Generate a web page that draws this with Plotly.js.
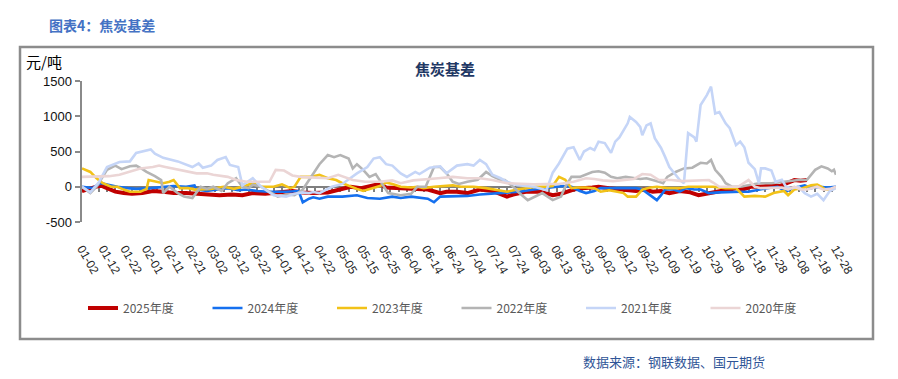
<!DOCTYPE html>
<html><head><meta charset="utf-8">
<script src="https://cdn.plot.ly/plotly-3.0.1.min.js"></script>
<style>html,body{margin:0;padding:0;background:#fff;}#chart{width:898px;height:379px;}</style>
</head><body><div id="chart"></div>
<script>
// ---- tick labels (MM-DD) ----
const xLabels = ["01-02","01-12","01-22","02-01","02-11","02-21","03-02","03-12","03-22","04-01","04-12","04-22",
  "05-05","05-15","05-25","06-04","06-14","06-24","07-04","07-14","07-24","08-03","08-13","08-23",
  "09-02","09-12","09-22","10-09","10-19","10-29","11-08","11-18","11-28","12-08","12-18","12-28"];
const seriesNames = ["2025年度","2024年度","2023年度","2022年度","2021年度","2020年度"];

// ---- data: day index within year, basis value (元/吨) ----
const d2025 = [2,7,11,14,18,22,26,31,36,41,46,52,57,63,68,74,79,84,90,96,103,108,113,120,126,131,136,141,145,148,155,161,168,174,177,182,187,193,199,206,209,215,222,228,232,238,242,247,250,255,262,268,272,276,280,284,289,294,298,302,307,312,316,319,323,327,333,337,341,344,347,350];
const v2025 = [-60,-20,20,-20,-70,-90,-100,-90,-60,-70,-90,-90,-100,-110,-120,-110,-120,-90,-100,-80,-60,-80,-90,-80,-30,0,-20,10,40,-10,-20,-30,-40,-90,-70,-70,-90,-40,-60,-140,-110,-70,-70,-120,-100,-40,-20,-10,0,-20,-40,-60,-40,-70,-60,-90,-60,-80,-120,-100,-70,-40,-20,-40,0,0,20,10,50,95,85,95];

const d2024 = [2,7,11,15,19,24,28,35,42,46,52,56,57,62,67,72,77,81,86,92,100,106,108,111,113,116,120,127,134,139,145,151,155,160,168,171,174,180,187,193,199,206,212,219,225,231,233,237,241,244,248,251,256,260,264,268,271,275,278,280,282,286,289,292,296,299,303,308,313,318,322,327,331,336,340,343,346,349,352,356,360,364];
const v2024 = [0,-20,50,20,0,-20,-30,-20,0,10,0,20,-40,-60,-40,-20,-50,-40,-60,-70,-70,-60,-220,-170,-150,-170,-140,-140,-120,-160,-170,-140,-160,-140,-170,-220,-140,-140,-130,-110,-100,-90,-70,-40,-20,0,10,0,-60,-90,-60,-20,-20,-30,-20,-20,-40,-120,-190,-120,-40,-40,-70,-20,-40,-40,-90,-80,-70,-70,-70,-40,-20,0,-70,-20,0,20,-20,0,-10,0];

const d2023 = [2,6,9,12,16,19,22,25,30,33,34,37,41,44,46,49,53,56,60,64,70,75,79,84,88,94,98,102,104,107,112,116,120,124,127,131,134,137,141,145,148,151,155,160,163,166,171,175,180,184,190,196,201,206,211,216,220,225,228,231,234,237,240,244,248,251,255,259,262,264,268,271,275,278,283,289,293,299,305,311,316,320,325,330,334,339,341,344,348,352,355,357,359,362,364];
const v2023 = [260,210,120,50,0,0,-40,-70,-70,-30,95,80,50,70,95,-20,-20,-40,-40,-30,0,-30,0,50,0,0,35,-20,0,140,140,170,120,95,50,0,-30,-60,-20,10,60,40,0,-10,0,-20,0,10,20,0,0,-20,-40,-70,-40,-20,0,0,10,140,100,-20,-10,-10,-20,-70,-50,-70,-90,-140,-140,-40,-10,0,-20,-20,0,0,0,-20,-20,-140,-130,-140,-90,-60,-120,-40,-20,20,30,0,-40,-40,-10];

const d2022 = [2,6,9,14,18,21,25,28,31,33,37,40,41,44,48,51,55,59,62,65,69,72,76,79,82,84,88,91,96,100,104,108,111,113,116,120,123,126,130,132,134,137,140,143,146,149,155,160,163,167,170,171,174,177,180,183,187,192,196,199,203,205,209,212,216,219,223,228,232,234,237,241,244,247,250,253,256,259,263,267,270,273,276,279,281,283,287,291,295,299,302,304,306,309,311,314,318,322,327,333,340,346,350,354,357,360,362,363,364];
const v2022 = [0,-90,0,240,300,250,290,300,250,210,150,95,-90,0,-90,-140,-160,0,-30,0,-60,50,120,0,-20,30,0,-50,-140,-110,-120,-40,100,190,320,450,420,450,400,260,320,240,140,180,50,-90,-120,-100,0,0,210,280,280,190,70,40,70,100,210,150,95,95,0,-90,-190,-150,-90,-190,-140,0,140,140,170,210,220,200,140,120,140,120,110,120,100,70,50,140,210,260,270,340,330,380,240,140,50,0,0,20,50,50,70,95,95,240,290,260,220,240,170];

const d2021 = [2,6,10,14,20,25,28,35,37,41,48,55,58,60,64,67,71,73,77,79,84,88,94,100,104,108,111,113,116,122,127,134,139,142,145,148,151,155,158,162,164,169,174,177,182,187,190,193,196,199,203,206,211,219,225,228,231,235,238,241,243,246,248,250,253,256,258,260,262,264,265,268,270,271,273,275,277,280,282,284,287,289,291,292,293,296,297,299,302,304,306,308,311,313,316,318,320,322,325,327,328,330,333,335,338,340,343,346,349,352,355,358,361,364];
const v2021 = [0,-80,60,280,350,360,480,530,470,410,360,280,330,270,300,380,420,310,280,20,120,0,-120,-140,-100,-80,-90,-75,-90,0,40,190,280,400,420,320,300,190,140,210,180,270,290,190,300,320,300,380,320,170,120,70,20,0,-50,200,330,540,560,380,500,550,520,640,620,480,640,700,800,900,990,920,850,730,870,900,690,550,420,280,170,95,50,380,760,700,640,1160,1300,1420,1040,1060,900,830,590,640,560,340,250,50,260,260,230,70,100,0,-20,0,-90,-140,-100,-190,-60,-20];

const d2020 = [2,9,15,20,25,30,36,39,42,48,52,57,62,65,72,76,81,88,92,95,99,103,107,114,120,125,128,132,138,145,151,155,161,166,173,180,187,193,199,206,212,219,225,231,238,244,248,252,257,263,267,271,275,279,285,290,297,300,303,305,308,313,317,322,325,328,333,338,341,344,347,350,355,358,361,364];
const v2020 = [140,140,150,170,210,260,280,300,280,240,220,190,190,170,140,95,70,70,70,240,230,160,140,130,120,170,140,95,70,70,90,50,90,100,120,140,120,120,95,50,40,35,40,40,70,120,110,90,80,95,110,180,170,95,95,80,90,95,95,60,0,0,0,95,0,-20,-20,-10,-40,0,-40,-40,0,-40,-30,0];

const days = [d2025,d2024,d2023,d2022,d2021,d2020];
const vals = [v2025,v2024,v2023,v2022,v2021,v2020];
const colors = ["#C00000","#1570EF","#F2C218","#B4B4B4","#C5D5F7","#EBD5D5"];
const widths = [4,2.6,2.6,2.6,2.6,2.6];

// ---- geometry (pixels) ----
const L=82, R=836, T=81, B=222;
const px = x => (x-L)/(R-L);
const py = y => (B-y)/(B-T);
const xMin=2, xMax=364;
const tickvals = xLabels.map((_,i)=> xMin + i*(xMax-xMin)/(xLabels.length-1));

const traces = seriesNames.map((n,i)=>({
  type:'scatter', mode:'lines', name:n, x:days[i], y:vals[i],
  line:{color:colors[i], width:widths[i]}, hoverinfo:'skip'
}));
traces.push({type:'scatter', mode:'lines', x:[xMin,xMax], y:[0,0], xaxis:'x2', yaxis:'y',
  line:{width:0, color:'rgba(0,0,0,0)'}, showlegend:false, hoverinfo:'skip'});

const cjk = "Noto Sans CJK SC, sans-serif";
const layout = {
  width:898, height:379,
  margin:{l:L, r:898-R, t:T, b:379-B},
  paper_bgcolor:'#fff', plot_bgcolor:'#fff',
  showlegend:true,
  xaxis:{range:[xMin,xMax], tickvals:tickvals, ticktext:xLabels, tickangle:60,
    showline:false, showgrid:false, zeroline:false, ticks:'outside', ticklen:14, tickcolor:'rgba(0,0,0,0)',
    tickfont:{family:'Liberation Sans, Arial, sans-serif', size:12, color:'#222'}},
  xaxis2:{range:[xMin,xMax], overlaying:'x', anchor:'free', position:0.25,
    showticklabels:false, ticks:'outside', ticklen:4, tickwidth:2, tickcolor:'#7f7f7f',
    tick0:2, dtick:4, showline:true, linecolor:'#7f7f7f', linewidth:2.5,
    showgrid:false, zeroline:false, layer:'below traces'},
  yaxis:{range:[-500,1500], tickvals:[-500,0,500,1000,1500], ticktext:["-500","0","500","1000","1500"],
    ticks:'outside', ticklen:5, tickwidth:2, tickcolor:'#8a8a8a',
    showline:true, linecolor:'#8a8a8a', linewidth:2.5, showgrid:false, zeroline:false,
    tickfont:{family:'Liberation Sans, Arial, sans-serif', size:13, color:'#111'}},
  legend:{orientation:'h', x:px(83), xanchor:'left', y:py(308), yanchor:'middle',
    entrywidth:79.5, entrywidthmode:'pixels', traceorder:'normal',
    font:{family:cjk, size:12, color:'#595959'}, bgcolor:'rgba(0,0,0,0)'},
  shapes:[{type:'rect', xref:'paper', yref:'paper', x0:px(20), x1:px(873), y0:py(339), y1:py(47),
    line:{color:'#8c8c8c', width:2.5}, fillcolor:'rgba(0,0,0,0)', layer:'below'}],
  annotations:[
    {text:'<b>图表4：焦炭基差</b>', xref:'paper', yref:'paper', x:px(47), y:py(25), xanchor:'left', yanchor:'middle',
      showarrow:false, font:{family:cjk, size:14, color:'#4472C4'}},
    {text:'<b>焦炭基差</b>', xref:'paper', yref:'paper', x:px(445), y:py(68), xanchor:'center', yanchor:'middle',
      showarrow:false, font:{family:cjk, size:15, color:'#1F3864'}},
    {text:'元/吨', xref:'paper', yref:'paper', x:px(24), y:py(62), xanchor:'left', yanchor:'middle',
      showarrow:false, font:{family:cjk, size:15, color:'#000'}},
    {text:'数据来源：钢联数据、国元期货', xref:'paper', yref:'paper', x:px(581), y:py(361), xanchor:'left', yanchor:'middle',
      showarrow:false, font:{family:cjk, size:13, color:'#2F5597'}}
  ]
};
Plotly.newPlot('chart', traces, layout, {staticPlot:true, displayModeBar:false});
</script></body></html>
